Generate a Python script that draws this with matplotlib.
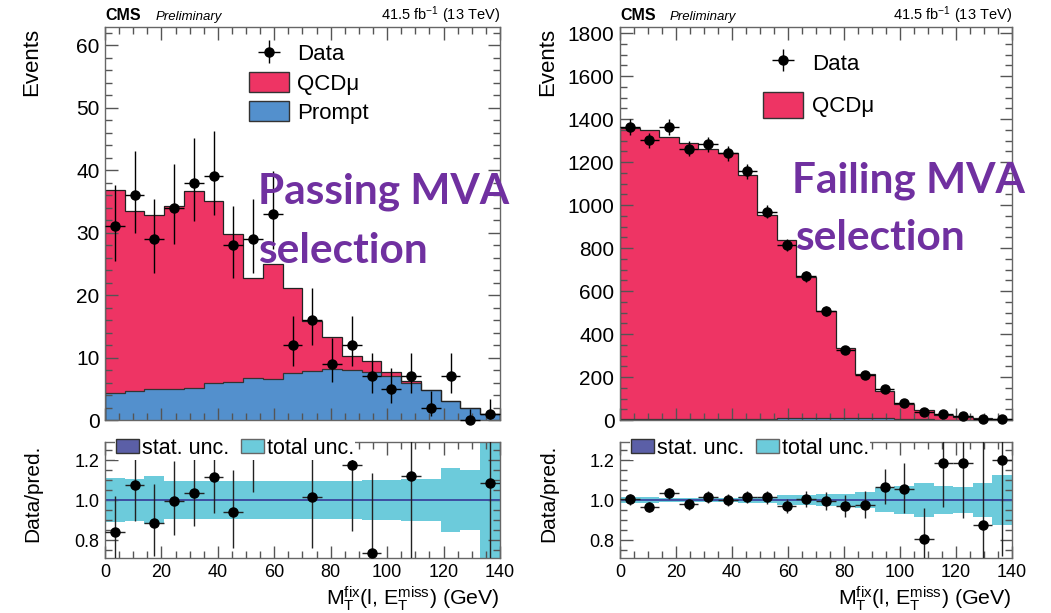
import numpy as np
import matplotlib
matplotlib.use("Agg")
import matplotlib.pyplot as plt
from matplotlib.ticker import MultipleLocator, FormatStrFormatter
from matplotlib.patches import Patch

# binning: 20 bins of 7 GeV
edges = np.arange(0, 141, 7)
centers = edges[:-1] + 3.5

# ---- passing MVA selection ----
pass_qcd = [32.4, 28.8, 27.9, 29.3, 31.5, 29.0, 23.7, 16.0, 18.5, 13.5,
            7.9, 5.2, 2.2, 1.8, 0.7, 0.35, 0.0, 0.0, 0.0, 0.0]
pass_prompt = [4.4, 4.7, 4.9, 4.9, 5.2, 6.0, 6.1, 6.7, 6.5, 7.6,
               7.9, 8.1, 8.0, 7.7, 7.0, 5.9, 4.8, 3.0, 2.0, 0.92]
pass_data = [31, 36, 29, 34, 38, 39, 28, 29, 33, 12,
             16, 9, 12, 7, 5, 7, 2, 7, 0, 1]
pass_err_lo = [5.5, 6.0, 5.4, 5.8, 6.1, 6.2, 5.3, 5.4, 5.7, 3.4,
               4.0, 2.9, 3.4, 2.6, 2.2, 2.6, 1.3, 2.6, 0.0, 0.8]
pass_err_hi = [6.6, 7.0, 6.4, 6.9, 7.2, 7.3, 6.3, 6.4, 6.8, 4.6,
               5.1, 4.1, 4.6, 3.8, 3.4, 3.8, 2.6, 3.8, 1.8, 2.3]
pass_total_unc = [0.108, 0.106, 0.118, 0.097, 0.095, 0.095, 0.095, 0.095, 0.095, 0.095,
                  0.095, 0.095, 0.097, 0.100, 0.100, 0.105, 0.107, 0.161, 0.152, 0.320]
pass_stat_unc = [0.005, 0.005, 0.005, 0.005, 0.005, 0.005, 0.005, 0.005, 0.005, 0.005,
                 0.005, 0.005, 0.005, 0.005, 0.005, 0.005, 0.005, 0.005, 0.005, 0.005]

# ---- failing MVA selection ----
fail_qcd = [1356, 1344, 1314, 1285, 1260, 1237, 1138, 952, 828, 655,
            498, 326, 205, 126, 71, 43, 22.5, 13.2, 7.0, 4.2]
fail_prompt = [3, 3, 3, 3, 3, 3, 3, 3, 10, 10,
               10, 10, 10, 10, 4, 3, 2, 2, 1, 0.8]
fail_data = [1365, 1301, 1362, 1262, 1282, 1241, 1157, 969, 813, 668,
             506, 326, 210, 145, 79, 37, 29, 18, 7, 6]
fail_err_lo = [37, 36, 37, 35.5, 36, 35, 34, 31, 28.5, 26,
               22.5, 18, 14.5, 12, 8.9, 6.0, 5.4, 4.2, 2.6, 2.4]
fail_err_hi = [37, 36, 37, 35.5, 36, 35, 34, 31, 28.5, 26,
               22.5, 18, 14.5, 12, 9.9, 7.1, 6.4, 5.3, 3.8, 3.6]
fail_total_unc = [0.016, 0.013, 0.012, 0.012, 0.012, 0.012, 0.013, 0.015, 0.024, 0.026,
                  0.028, 0.032, 0.038, 0.058, 0.072, 0.083, 0.068, 0.063, 0.083, 0.127]
fail_stat_unc = [0.006, 0.006, 0.006, 0.006, 0.006, 0.006, 0.006, 0.006, 0.006, 0.006,
                 0.006, 0.006, 0.006, 0.006, 0.006, 0.006, 0.006, 0.006, 0.006, 0.006]

RED = '#ee3464'
BLUE = '#5390cd'
CYAN = '#6ccbdb'
STAT = '#5b5fa7'
PURPLE = '#7030a0'

plt.rcParams['font.family'] = ['Liberation Sans', 'DejaVu Sans']
plt.rcParams['mathtext.fontset'] = 'custom'
plt.rcParams['mathtext.rm'] = 'Liberation Sans'
plt.rcParams['mathtext.it'] = 'Liberation Sans:italic'
plt.rcParams['mathtext.bf'] = 'Liberation Sans:bold'

XLABEL = r'M$_\mathrm{T}^\mathrm{fix}$(l, E$_\mathrm{T}^\mathrm{miss}$) (GeV)'


def style_axis(ax, major_y, minor_y, label_size):
    ax.set_xlim(0, 140)
    ax.xaxis.set_major_locator(MultipleLocator(20))
    ax.xaxis.set_minor_locator(MultipleLocator(5))
    ax.yaxis.set_major_locator(MultipleLocator(major_y))
    ax.yaxis.set_minor_locator(MultipleLocator(minor_y))
    ax.tick_params(which='both', direction='in', top=True, right=True,
                   color='#555555', labelsize=label_size, pad=4)
    ax.tick_params(which='major', length=9, width=1)
    ax.tick_params(which='minor', length=5, width=1)
    for s in ax.spines.values():
        s.set_color('#666666')
        s.set_linewidth(1.0)


def draw_main(ax, qcd, prompt, data, lo, hi, ymax, major_y, minor_y, with_prompt):
    qcd = np.array(qcd)
    prompt = np.array(prompt)
    total = qcd + prompt
    ax.stairs(total, edges, baseline=prompt, fill=True, color=RED, zorder=1)
    ax.stairs(prompt, edges, fill=True, color=BLUE, zorder=1)
    ax.stairs(prompt, edges, color='#333333', lw=0.9, zorder=2)
    ax.stairs(total, edges, color='#222222', lw=0.9, zorder=2)
    eb = ax.errorbar(centers, data, yerr=[lo, hi], xerr=3.5, fmt='o', color='black',
                     ms=6.5, lw=1, capsize=0, zorder=4, clip_on=False)
    ax.set_ylim(0, ymax)
    style_axis(ax, major_y, minor_y, 15)
    ax.tick_params(labelbottom=False)
    ax.text(-0.158, 0.997, 'Events', rotation=90, ha='right', va='top',
            fontsize=16, transform=ax.transAxes)
    ax.text(0.0, 1.018, 'CMS', fontsize=11.5, fontweight='bold', transform=ax.transAxes)
    ax.text(0.127, 1.018, 'Preliminary', fontsize=9.5, style='italic', transform=ax.transAxes)
    ax.text(1.0, 1.018, r'41.5 fb$^{-1}$ (13 TeV)', fontsize=10.5, ha='right',
            transform=ax.transAxes)
    if with_prompt:
        handles = [eb, Patch(facecolor=RED, edgecolor='#333333'),
                   Patch(facecolor=BLUE, edgecolor='#333333')]
        labels = ['Data', 'QCDμ', 'Prompt']
        ax.legend(handles, labels, loc='upper left', bbox_to_anchor=(0.365, 0.96),
                  frameon=False, fontsize=16, handlelength=1.8, handleheight=1.0,
                  handletextpad=0.36, labelspacing=0.3, borderpad=0, borderaxespad=0)
    else:
        handles = [eb, Patch(facecolor=RED, edgecolor='#333333')]
        labels = ['Data', 'QCDμ']
        ax.legend(handles, labels, loc='upper left', bbox_to_anchor=(0.365, 0.942),
                  frameon=False, fontsize=16, handlelength=1.8, handleheight=1.45,
                  handletextpad=0.4, labelspacing=0.7, borderpad=0, borderaxespad=0)


def draw_ratio(rax, qcd, prompt, data, lo, hi, total_unc, stat_unc):
    total = np.array(qcd) + np.array(prompt)
    total_unc = np.array(total_unc)
    stat_unc = np.array(stat_unc)
    rax.stairs(1 + total_unc, edges, baseline=1 - total_unc, fill=True, color=CYAN, zorder=1)
    rax.stairs(1 + stat_unc, edges, baseline=1 - stat_unc, fill=True, color=STAT, zorder=1)
    rax.axhline(1.0, color='#3b50a3', lw=1.3, zorder=2)
    ylo, yhi = 0.71, 1.29
    ratio = np.array(data) / total
    # points outside the frame are not drawn
    inside = (ratio > ylo) & (ratio < yhi)
    rlo = np.array(lo) / total
    rhi = np.array(hi) / total
    rax.errorbar(centers[inside], ratio[inside], yerr=[rlo[inside], rhi[inside]], xerr=3.5,
                 fmt='o', color='black', ecolor='#222222', ms=6.5, lw=1, capsize=0, zorder=4)
    rax.set_ylim(ylo, yhi)
    style_axis(rax, 0.2, 0.05, 13)
    rax.yaxis.set_major_formatter(FormatStrFormatter('%.1f'))
    rax.text(-0.158, 0.975, 'Data/pred.', rotation=90, ha='right', va='top',
             fontsize=15, transform=rax.transAxes)
    rax.text(1.0, -0.405, XLABEL, ha='right', va='baseline', fontsize=15.4,
             transform=rax.transAxes)
    handles = [Patch(facecolor=STAT, edgecolor='#333333'),
               Patch(facecolor=CYAN, edgecolor='#666666')]
    leg = rax.legend(handles, ['stat. unc.', 'total unc.'], loc='upper left',
                     bbox_to_anchor=(0.025, 1.045), ncol=2, fontsize=15.5, frameon=True,
                     fancybox=False, framealpha=1, edgecolor='none', handlelength=1.07,
                     handleheight=0.65, handletextpad=0.14, columnspacing=0.56,
                     borderpad=0.04, borderaxespad=0)
    leg.set_zorder(6)


fig = plt.figure(figsize=(10.51, 6.13), dpi=100)
axL = fig.add_axes([0.0999, 0.3148, 0.3758, 0.6411])
rL = fig.add_axes([0.0999, 0.0897, 0.3758, 0.1892])
axR = fig.add_axes([0.5899, 0.3148, 0.3730, 0.6411])
rR = fig.add_axes([0.5899, 0.0897, 0.3730, 0.1892])

draw_main(axL, pass_qcd, pass_prompt, pass_data, pass_err_lo, pass_err_hi, 62.9, 10, 2, True)
draw_ratio(rL, pass_qcd, pass_prompt, pass_data, pass_err_lo, pass_err_hi,
           pass_total_unc, pass_stat_unc)
draw_main(axR, fail_qcd, fail_prompt, fail_data, fail_err_lo, fail_err_hi, 1828, 200, 50, False)
draw_ratio(rR, fail_qcd, fail_prompt, fail_data, fail_err_lo, fail_err_hi,
           fail_total_unc, fail_stat_unc)

# slide annotations
annot = dict(color=PURPLE, fontsize=30.5, fontweight='bold', family='Lato',
             ha='left', va='baseline')
fig.text(258 / 1051, 1 - 203 / 613, 'Passing MVA', **annot)
fig.text(258 / 1051, 1 - 263 / 613, 'selection', **annot)
fig.text(792 / 1051, 1 - 192 / 613, 'Failing MVA', **annot)
fig.text(795 / 1051, 1 - 250 / 613, 'selection', **annot)

fig.savefig('out.png', dpi=100)
plt.close(fig)
